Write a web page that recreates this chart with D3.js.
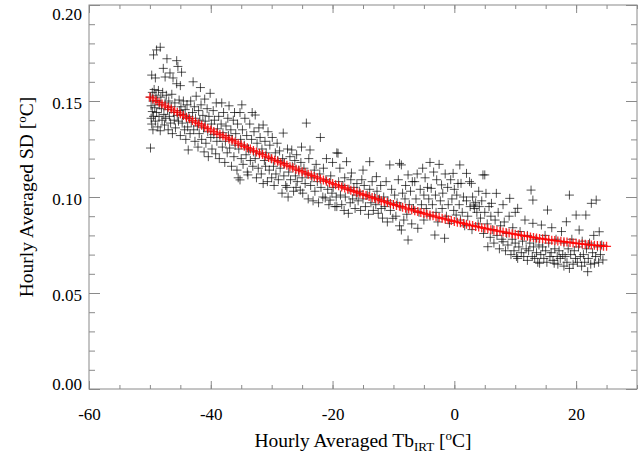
<!DOCTYPE html>
<html>
<head>
<meta charset="utf-8">
<script src="https://cdn.jsdelivr.net/npm/d3@7"></script>
<style>
  body { margin: 0; background: #fff; }
  text { font-family: 'Liberation Serif', 'DejaVu Serif', serif; fill: #000; }
</style>
</head>
<body>
<div id="chart"></div>
<script>
var obsCold = [
  [-49.9, 0.1255], [-49.9, 0.1520], [-49.8, 0.1475], [-49.8, 0.1410], [-49.7, 0.1635], [-49.7, 0.1380], [-49.6, 0.1545], [-49.6, 0.1445],
  [-49.5, 0.1350], [-49.5, 0.1500], [-49.4, 0.1740], [-49.4, 0.1420], [-49.3, 0.1560], [-49.2, 0.1465], [-49.1, 0.1620], [-49.1, 0.1395], [-49.0, 0.1530],
  [-48.9, 0.1766], [-48.9, 0.1440], [-48.8, 0.1500], [-48.7, 0.1365], [-48.6, 0.1555], [-48.5, 0.1420], [-48.4, 0.1480], [-48.3, 0.1780],
  [-48.3, 0.1345], [-48.2, 0.1520], [-48.1, 0.1460], [-48.0, 0.1400],
  [-47.9, 0.1545], [-47.8, 0.1670], [-47.7, 0.1430], [-47.6, 0.1375], [-47.5, 0.1625], [-47.5, 0.1490], [-47.4, 0.1410], [-47.3, 0.1530],
  [-47.2, 0.1720], [-47.1, 0.1455], [-47.0, 0.1350],
  [-46.9, 0.1500], [-46.8, 0.1420], [-46.7, 0.1646], [-46.6, 0.1385], [-46.5, 0.1470], [-46.4, 0.1535], [-46.3, 0.1330], [-46.2, 0.1620],
  [-46.1, 0.1440], [-46.0, 0.1400],
  [-45.9, 0.1490], [-45.8, 0.1360], [-45.6, 0.1710], [-45.6, 0.1590], [-45.5, 0.1425], [-45.4, 0.1680], [-45.3, 0.1395], [-45.2, 0.1505],
  [-45.1, 0.1450], [-45.0, 0.1580], [-45.0, 0.1320],
  [-44.9, 0.1470], [-44.8, 0.1650], [-44.7, 0.1385], [-44.6, 0.1430], [-44.5, 0.1500], [-44.3, 0.1350], [-44.2, 0.1455], [-44.1, 0.1300], [-44.0, 0.1410],
  [-43.9, 0.1480], [-43.8, 0.1365], [-43.7, 0.1245], [-43.6, 0.1420], [-43.4, 0.1330], [-43.3, 0.1500], [-43.2, 0.1390], [-43.0, 0.1440], [-42.9, 0.1600],
  [-42.8, 0.1350], [-42.7, 0.1470], [-42.6, 0.1290], [-42.5, 0.1410], [-42.4, 0.1525], [-42.2, 0.1370], [-42.1, 0.1260], [-42.0, 0.1450],
  [-41.9, 0.1330], [-41.8, 0.1400], [-41.7, 0.1570], [-41.6, 0.1480], [-41.5, 0.1300], [-41.3, 0.1425], [-41.2, 0.1360], [-41.1, 0.1235], [-41.0, 0.1510],
  [-40.9, 0.1395], [-40.8, 0.1280], [-40.6, 0.1460], [-40.5, 0.1340], [-40.4, 0.1210], [-40.3, 0.1420], [-40.1, 0.1540], [-40.0, 0.1310],
  [-39.9, 0.1380], [-39.8, 0.1250], [-39.6, 0.1450], [-39.5, 0.1325], [-39.4, 0.1400], [-39.2, 0.1225], [-39.1, 0.1490], [-39.0, 0.1290],
  [-38.9, 0.1355], [-38.7, 0.1420], [-38.6, 0.1200], [-38.5, 0.1310], [-38.3, 0.1380], [-38.2, 0.1490], [-38.1, 0.1260], [-38.0, 0.1335],
  [-37.9, 0.1440], [-37.7, 0.1180], [-37.6, 0.1290], [-37.5, 0.1370], [-37.3, 0.1230], [-37.2, 0.1410], [-37.1, 0.1320], [-37.0, 0.1475],
  [-36.9, 0.1255], [-36.7, 0.1350], [-36.6, 0.1160], [-36.5, 0.1300], [-36.3, 0.1400], [-36.2, 0.1210], [-36.1, 0.1440], [-36.0, 0.1270],
  [-35.9, 0.1330], [-35.7, 0.1140], [-35.6, 0.1380], [-35.5, 0.1100], [-35.4, 0.1250], [-35.2, 0.1440], [-35.2, 0.1089], [-35.1, 0.1300], [-35.0, 0.1200],
  [-34.9, 0.1480], [-34.8, 0.1350], [-34.7, 0.1170], [-34.5, 0.1270], [-34.4, 0.1410], [-34.2, 0.1220], [-34.1, 0.1320], [-34.0, 0.1130],
  [-33.9, 0.1115], [-33.8, 0.1250], [-33.6, 0.1380], [-33.5, 0.1190], [-33.3, 0.1300], [-33.2, 0.1440], [-33.1, 0.1160], [-33.0, 0.1235],
  [-32.9, 0.1340], [-32.7, 0.1427], [-32.7, 0.1200], [-32.5, 0.1100], [-32.4, 0.1280], [-32.2, 0.1150], [-32.1, 0.1360], [-32.0, 0.1225],
  [-31.9, 0.1310], [-31.7, 0.1120], [-31.6, 0.1250], [-31.4, 0.1375], [-31.4, 0.1070], [-31.2, 0.1190], [-31.1, 0.1290], [-31.0, 0.1160],
  [-30.9, 0.1230], [-30.7, 0.1080], [-30.6, 0.1340], [-30.4, 0.1140], [-30.3, 0.1270], [-30.1, 0.1200], [-30.0, 0.1100]
]

var obsMid = [
  [-29.9, 0.1310], [-29.7, 0.1160], [-29.6, 0.1060], [-29.4, 0.1230], [-29.3, 0.1120], [-29.1, 0.1280], [-29.0, 0.1190],
  [-28.9, 0.1090], [-28.7, 0.1240], [-28.6, 0.1150], [-28.3, 0.1020], [-28.2, 0.1200], [-28.1, 0.1333], [-28.0, 0.1110],
  [-27.9, 0.1175], [-27.7, 0.1060], [-27.5, 0.1050], [-27.4, 0.1250], [-27.3, 0.1000], [-27.2, 0.1130], [-27.0, 0.1210],
  [-26.9, 0.1090], [-26.7, 0.1245], [-26.6, 0.1160], [-26.4, 0.1030], [-26.2, 0.1190], [-26.1, 0.1110], [-26.0, 0.1050],
  [-25.9, 0.1220], [-25.8, 0.1080], [-25.6, 0.1140], [-25.3, 0.1036], [-25.2, 0.1180], [-25.1, 0.1260], [-25.0, 0.1100],
  [-24.9, 0.1020], [-24.7, 0.1150], [-24.5, 0.1070], [-24.3, 0.1385], [-24.2, 0.1120], [-24.0, 0.0990],
  [-23.9, 0.1200], [-23.7, 0.1245], [-23.6, 0.1060], [-23.4, 0.1100], [-23.2, 0.0980], [-23.0, 0.1140],
  [-22.9, 0.1030], [-22.7, 0.1170], [-22.5, 0.1080], [-22.3, 0.0970], [-22.1, 0.1120], [-22.0, 0.1310],
  [-21.9, 0.1050], [-21.6, 0.1000], [-21.5, 0.1150], [-21.2, 0.0995], [-21.1, 0.1090], [-21.0, 0.1200],
  [-20.8, 0.1040], [-20.6, 0.0960], [-20.4, 0.0984], [-20.3, 0.1110], [-20.1, 0.1020], [-20.0, 0.1180],
  [-19.9, 0.1050], [-19.6, 0.0950], [-19.4, 0.1000], [-19.3, 0.0950], [-19.3, 0.1230], [-19.1, 0.1228], [-19.0, 0.1080],
  [-18.8, 0.1150], [-18.7, 0.1010], [-18.5, 0.0960], [-18.3, 0.1060], [-18.1, 0.0930], [-18.0, 0.1100],
  [-17.9, 0.1000], [-17.7, 0.1184], [-17.4, 0.0915], [-17.3, 0.1040], [-17.1, 0.0970], [-17.0, 0.1090],
  [-16.9, 0.1125], [-16.7, 0.0990], [-16.5, 0.1050], [-16.3, 0.0940], [-16.1, 0.1010], [-16.0, 0.1070],
  [-15.8, 0.0980], [-15.6, 0.1030], [-15.4, 0.0930], [-15.2, 0.1090], [-15.0, 0.1140], [-15.0, 0.0990],
  [-14.8, 0.1060], [-14.6, 0.0950], [-14.3, 0.1010], [-14.1, 0.0910], [-13.9, 0.1184], [-13.9, 0.1040],
  [-13.7, 0.0970], [-13.5, 0.1080], [-13.3, 0.0930], [-13.1, 0.1000], [-12.8, 0.1106], [-12.9, 0.0960],
  [-12.7, 0.1030], [-12.5, 0.0915], [-12.3, 0.0990], [-12.1, 0.1060], [-12.0, 0.0940],
  [-11.8, 0.0890], [-11.6, 0.1000], [-11.4, 0.0950], [-11.2, 0.1080], [-11.0, 0.0870],
  [-10.9, 0.0980], [-10.6, 0.1167], [-10.5, 0.0930], [-10.3, 0.1040], [-10.1, 0.0889], [-10.0, 0.0960],
  [-9.8, 0.1010], [-9.6, 0.0900], [-9.4, 0.0970], [-9.2, 0.1090], [-9.0, 0.1175], [-9.0, 0.0850],
  [-8.8, 0.0950], [-8.7, 0.1167], [-8.7, 0.0828], [-8.5, 0.1020], [-8.3, 0.0880], [-8.1, 0.0990], [-8.0, 0.1060],
  [-7.8, 0.0910], [-7.6, 0.1115], [-7.6, 0.0776], [-7.4, 0.0960], [-7.2, 0.1030], [-7.0, 0.0860],
  [-6.9, 0.1080], [-6.7, 0.0940], [-6.5, 0.1080], [-6.3, 0.0990], [-6.0, 0.0837], [-6.1, 0.1120],
  [-5.8, 0.0920], [-5.6, 0.1040], [-5.4, 0.0960], [-5.2, 0.1150], [-5.0, 0.0880], [-5.0, 0.1010],
  [-4.8, 0.1100], [-4.6, 0.0940], [-4.4, 0.1050], [-4.2, 0.0990], [-4.0, 0.1180], [-4.0, 0.0900],
  [-3.8, 0.1045], [-3.6, 0.0960], [-3.4, 0.1130], [-3.2, 0.0802], [-3.1, 0.1010], [-3.0, 0.0920],
  [-2.9, 0.1090], [-2.7, 0.0870], [-2.5, 0.1170], [-2.3, 0.0980], [-2.1, 0.1063], [-2.0, 0.0940],
  [-1.9, 0.1020], [-1.6, 0.0785], [-1.5, 0.1120], [-1.3, 0.0900], [-1.1, 0.1050], [-1.0, 0.0960],
  [-0.8, 0.0863], [-0.6, 0.1090], [-0.4, 0.0990], [-0.2, 0.1123], [-0.1, 0.0930], [0.0, 0.1040]
]

var obsWarm = [
  [0.3, 0.0906], [0.4, 0.1010], [0.6, 0.1070], [0.8, 0.0960], [0.9, 0.1167], [1.0, 0.0880],
  [1.1, 0.1071], [1.3, 0.0920], [1.5, 0.1000], [1.7, 0.0850], [2.0, 0.1123], [2.0, 0.0980],
  [2.2, 0.0900], [2.5, 0.1080], [2.6, 0.0950], [2.8, 0.1071], [2.9, 0.0830], [3.0, 0.1000],
  [3.2, 0.0958], [3.3, 0.0940], [3.5, 0.0970], [3.7, 0.0920], [3.9, 0.0860], [4.0, 0.1030], [4.1, 0.0950],
  [4.3, 0.0890], [4.5, 0.0980], [4.7, 0.1115], [4.8, 0.0810], [5.0, 0.1115], [5.0, 0.0920],
  [5.2, 0.1019], [5.4, 0.0860], [5.5, 0.0741], [5.7, 0.0950], [5.9, 0.0790], [6.0, 0.0900],
  [6.1, 0.0967], [6.3, 0.0830], [6.5, 0.0760], [6.7, 0.0880], [6.9, 0.1019], [7.0, 0.0800],
  [7.2, 0.0920], [7.4, 0.0730], [7.6, 0.0850], [7.8, 0.0780], [8.0, 0.0767], [8.0, 0.0960],
  [8.2, 0.0870], [8.4, 0.0720], [8.6, 0.0810], [8.8, 0.0750], [9.0, 0.0900], [9.1, 0.0993],
  [9.3, 0.0700], [9.5, 0.0780], [9.6, 0.0840], [9.8, 0.0720], [10.0, 0.0760], [10.0, 0.0920],
  [10.2, 0.0690], [10.4, 0.0941], [10.4, 0.0680], [10.6, 0.0740], [10.8, 0.0820], [11.0, 0.0710],
  [11.2, 0.0770], [11.4, 0.0690], [11.6, 0.0880], [11.8, 0.0730], [12.0, 0.0670], [12.0, 0.0800],
  [12.2, 0.0720], [12.4, 0.0760], [12.6, 0.1036], [12.8, 0.0690], [12.9, 0.0984], [12.9, 0.0863], [13.0, 0.0740],
  [13.2, 0.0680], [13.4, 0.0780], [13.5, 0.0710], [13.7, 0.0660], [13.9, 0.0750], [14.0, 0.0655],
  [14.2, 0.0700], [14.3, 0.0854], [14.5, 0.0740], [14.7, 0.0680], [14.9, 0.0800], [15.0, 0.0720],
  [15.2, 0.0660], [15.3, 0.0932], [15.5, 0.0760], [15.7, 0.0690], [15.9, 0.0710], [16.0, 0.0840],
  [16.2, 0.0670], [16.4, 0.0655], [16.5, 0.0730], [16.7, 0.0780], [16.9, 0.0690], [17.0, 0.0650],
  [17.2, 0.0720], [17.4, 0.0680], [17.6, 0.0820], [17.8, 0.0700], [18.0, 0.0640], [18.0, 0.0760],
  [18.2, 0.0690], [18.4, 0.0871], [18.5, 0.0660], [18.7, 0.0730], [18.9, 0.1010], [18.9, 0.0628],
  [19.1, 0.0700], [19.3, 0.0780], [19.5, 0.0650], [19.7, 0.0720], [19.9, 0.0680], [20.0, 0.0906],
  [20.2, 0.0660], [20.4, 0.0740], [20.5, 0.0828], [20.7, 0.0690], [20.9, 0.0640], [21.0, 0.0770],
  [21.2, 0.0700], [21.4, 0.0660], [21.6, 0.0906], [21.7, 0.0730], [21.9, 0.0611], [22.0, 0.0680],
  [22.2, 0.0760], [22.4, 0.0650], [22.5, 0.0967], [22.7, 0.0710], [22.9, 0.0800], [23.0, 0.0655],
  [23.2, 0.0690], [23.3, 0.0984], [23.5, 0.0740], [23.7, 0.0660], [23.8, 0.0819], [24.0, 0.0700], [24.2, 0.0750], [24.4, 0.0672]
]

// fitted SD, one value every 0.5 degC from -50 to 25
var fitSD = [
  0.1520, 0.1511, 0.1502, 0.1493, 0.1484, 0.1475, 0.1467, 0.1458, 0.1449, 0.1441,
  0.1432, 0.1424, 0.1415, 0.1407, 0.1398, 0.1390, 0.1382, 0.1374, 0.1365, 0.1357,
  0.1349, 0.1341, 0.1333, 0.1326, 0.1318, 0.1310, 0.1302, 0.1295, 0.1287, 0.1279,
  0.1272, 0.1264, 0.1257, 0.1250, 0.1242, 0.1235, 0.1228, 0.1221, 0.1213, 0.1206,
  0.1199, 0.1192, 0.1186, 0.1179, 0.1172, 0.1165, 0.1158, 0.1152, 0.1145, 0.1139,
  0.1132, 0.1126, 0.1119, 0.1113, 0.1107, 0.1100, 0.1094, 0.1088, 0.1082, 0.1076,
  0.1070, 0.1064, 0.1058, 0.1052, 0.1047, 0.1041, 0.1035, 0.1030, 0.1024, 0.1019,
  0.1013, 0.1008, 0.1002, 0.0997, 0.0992, 0.0987, 0.0981, 0.0976, 0.0971, 0.0966,
  0.0961, 0.0956, 0.0952, 0.0947, 0.0942, 0.0937, 0.0933, 0.0928, 0.0924, 0.0919,
  0.0915, 0.0910, 0.0906, 0.0902, 0.0897, 0.0893, 0.0889, 0.0885, 0.0881, 0.0877,
  0.0873, 0.0869, 0.0866, 0.0862, 0.0858, 0.0854, 0.0851, 0.0847, 0.0844, 0.0840,
  0.0837, 0.0834, 0.0830, 0.0827, 0.0824, 0.0821, 0.0818, 0.0815, 0.0812, 0.0809,
  0.0806, 0.0803, 0.0800, 0.0797, 0.0795, 0.0792, 0.0789, 0.0787, 0.0784, 0.0782,
  0.0780, 0.0777, 0.0775, 0.0773, 0.0771, 0.0769, 0.0767, 0.0765, 0.0763, 0.0761,
  0.0759, 0.0757, 0.0755, 0.0754, 0.0752, 0.0750, 0.0749, 0.0747, 0.0746, 0.0744,
  0.0743
]
var fitTb = d3.range(-50, 25.25, 0.5)

// tick values and labels
var xTicks = [-60, -40, -20, 0, 20]
var xTickLabels = ['-60', '-40', '-20', '0', '20']
var yTicks = [0, 0.05, 0.10, 0.15, 0.20]
var yTickLabels = ['0.00', '0.05', '0.10', '0.15', '0.20']

// frame of the plot
var margin = { top: 5, right: 6, bottom: 67, left: 89 }
var W = 643
var H = 456
var frameColor = '#8a8a8a'

var svg = d3.select('#chart')
  .append('svg')
  .attr('width', W)
  .attr('height', H)

var x = d3.scaleLinear()
  .domain([-60, 30])
  .range([margin.left, W - margin.right])
var y = d3.scaleLinear()
  .domain([0, 0.20])
  .range([H - margin.bottom, margin.top])

var xMinor = d3.range(-60, 30.1, 5)
var yMinor = d3.range(0, 0.2001, 0.01)

function styleAxis (g) {
  g.select('.domain').remove()
  g.selectAll('.tick line').attr('stroke', frameColor)
  g.selectAll('.tick text').style('font-size', '17px').attr('fill', '#000')
}

// bottom axis, ticks point inward
svg.append('g')
  .attr('transform', 'translate(0,' + y(0) + ')')
  .call(d3.axisBottom(x).tickValues(xMinor).tickSize(-4).tickFormat(''))
  .call(styleAxis)
svg.append('g')
  .attr('transform', 'translate(0,' + y(0) + ')')
  .call(d3.axisBottom(x).tickValues(xTicks).tickSize(-8).tickPadding(19)
    .tickFormat(function (d, i) { return xTickLabels[i] }))
  .call(styleAxis)

// top axis, no labels
svg.append('g')
  .attr('transform', 'translate(0,' + y(0.20) + ')')
  .call(d3.axisTop(x).tickValues(xMinor).tickSize(-4).tickFormat(''))
  .call(styleAxis)
svg.append('g')
  .attr('transform', 'translate(0,' + y(0.20) + ')')
  .call(d3.axisTop(x).tickValues(xTicks).tickSize(-8).tickFormat(''))
  .call(styleAxis)

// left axis
svg.append('g')
  .attr('transform', 'translate(' + x(-60) + ',0)')
  .call(d3.axisLeft(y).tickValues(yMinor).tickSize(-6).tickFormat(''))
  .call(styleAxis)
var yAxis = svg.append('g')
  .attr('transform', 'translate(' + x(-60) + ',0)')
  .call(d3.axisLeft(y).tickValues(yTicks).tickSize(-11).tickPadding(7)
    .tickFormat(function (d, i) { return yTickLabels[i] }))
  .call(styleAxis)
// labels sit a bit below their ticks, and the end ones are kept inside the frame
yAxis.selectAll('.tick text')
  .attr('y', function (d) {
    var c = Math.min(Math.max(y(d) + 2.5, 14), 384)
    return c - y(d)
  })

// right axis, no labels
svg.append('g')
  .attr('transform', 'translate(' + x(30) + ',0)')
  .call(d3.axisRight(y).tickValues(yMinor).tickSize(-6).tickFormat(''))
  .call(styleAxis)
svg.append('g')
  .attr('transform', 'translate(' + x(30) + ',0)')
  .call(d3.axisRight(y).tickValues(yTicks).tickSize(-11).tickFormat(''))
  .call(styleAxis)

// box around the plot
svg.append('rect')
  .attr('x', x(-60))
  .attr('y', y(0.20))
  .attr('width', x(30) - x(-60))
  .attr('height', y(0) - y(0.20))
  .attr('fill', 'none')
  .attr('stroke', frameColor)
  .attr('stroke-width', 1)

// plus sign marker
var plus = 'M-4.5,0H4.5M0,-4.5V4.5'

var obs = obsCold.concat(obsMid, obsWarm)
svg.append('g')
  .selectAll('path')
  .data(obs)
  .enter()
  .append('path')
  .attr('d', plus)
  .attr('transform', function (d) { return 'translate(' + x(d[0]) + ',' + y(d[1]) + ')' })
  .attr('stroke', '#000')
  .attr('stroke-opacity', 0.68)
  .attr('stroke-width', 1)
  .attr('fill', 'none')

// fitted curve drawn as red plus signs
svg.append('g')
  .selectAll('path')
  .data(fitSD)
  .enter()
  .append('path')
  .attr('d', plus)
  .attr('transform', function (d, i) { return 'translate(' + x(fitTb[i]) + ',' + y(d) + ')' })
  .attr('stroke', '#ff0000')
  .attr('stroke-opacity', 0.85)
  .attr('stroke-width', 1.3)
  .attr('fill', 'none')

// axis titles
var xTitle = svg.append('text')
  .attr('x', (x(-60) + x(30)) / 2)
  .attr('y', 447)
  .attr('text-anchor', 'middle')
  .style('font-size', '19.5px')
xTitle.append('tspan').text('Hourly Averaged Tb')
xTitle.append('tspan').attr('dy', 4).style('font-size', '13px').text('IRT')
xTitle.append('tspan').attr('dy', -4).text(' [')
xTitle.append('tspan').attr('dy', -7).style('font-size', '13px').text('o')
xTitle.append('tspan').attr('dy', 7).text('C]')

var yTitle = svg.append('text')
  .attr('transform', 'translate(33,' + (y(0) + y(0.20)) / 2 + ') rotate(-90)')
  .attr('text-anchor', 'middle')
  .style('font-size', '19.5px')
yTitle.append('tspan').text('Hourly Averaged SD [')
yTitle.append('tspan').attr('dy', -7).style('font-size', '13px').text('o')
yTitle.append('tspan').attr('dy', 7).text('C]')
</script>
</body>
</html>
